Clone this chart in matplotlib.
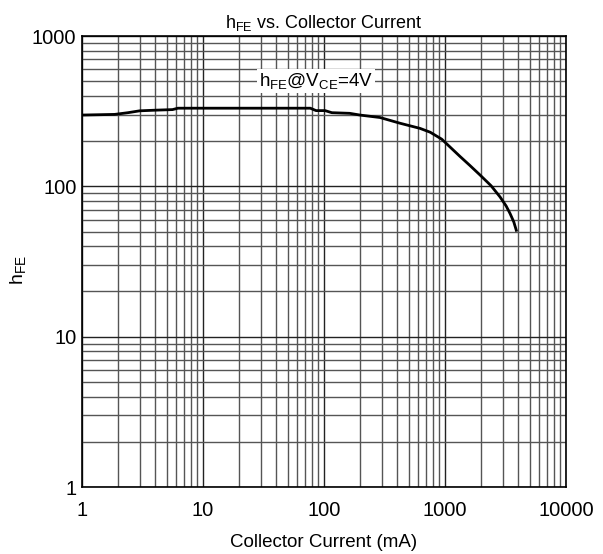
import matplotlib
matplotlib.use("Agg")
import matplotlib.pyplot as plt
from matplotlib.ticker import LogLocator, FixedLocator, NullFormatter

plt.rcParams['font.family'] = ['Liberation Sans', 'DejaVu Sans']
plt.rcParams['mathtext.fontset'] = 'custom'
plt.rcParams['mathtext.rm'] = 'Liberation Sans'
plt.rcParams['mathtext.it'] = 'Liberation Sans'
plt.rcParams['mathtext.default'] = 'regular'

# Data
ic_ma = [1, 1.86, 2.4, 3.0, 4.0, 5.6, 6.2, 28, 77, 86, 102, 116, 163, 198,
         290, 424, 621, 755, 939, 1331, 1600, 1946, 2400, 2850, 3200, 3445, 3700, 3911]
hfe = [298, 301, 309, 318, 321, 324, 331, 331, 331, 319, 319, 309, 306, 298,
       287, 263, 243, 229, 206, 158, 138, 119, 101, 85, 74, 66, 58, 50]

x_ticks = [1, 10, 100, 1000, 10000]
x_labels = ["1", "10", "100", "1000", "10000"]
y_ticks = [1, 10, 100, 1000]
y_labels = ["1", "10", "100", "1000"]

fig = plt.figure(figsize=(6.03, 5.54), dpi=100)
ax = fig.add_axes([0.136, 0.1209, 0.8027, 0.8141])
ax.set_xscale('log')
ax.set_yscale('log')
ax.set_xlim(1, 10000)
ax.set_ylim(1, 1000)

ax.plot(ic_ma, hfe, color='black', lw=2.0, solid_capstyle='butt', zorder=3)

ax.xaxis.set_major_locator(FixedLocator(x_ticks))
ax.set_xticklabels(x_labels)
ax.yaxis.set_major_locator(FixedLocator(y_ticks))
ax.set_yticklabels(y_labels)
ax.xaxis.set_minor_locator(LogLocator(base=10, subs=range(2, 10), numticks=20))
ax.yaxis.set_minor_locator(LogLocator(base=10, subs=range(2, 10), numticks=20))
ax.xaxis.set_minor_formatter(NullFormatter())
ax.yaxis.set_minor_formatter(NullFormatter())

ax.grid(True, which='major', color='#222222', lw=1.0)
ax.grid(True, which='minor', color='#555555', lw=1.0)
ax.tick_params(which='both', length=0, labelsize=14.5)
ax.tick_params(axis='x', pad=10)
ax.tick_params(axis='y', pad=4)
for s in ax.spines.values():
    s.set_linewidth(1.2)
    s.set_color('black')

ax.set_title(r"$\mathrm{h_{FE}}$ vs. Collector Current", fontsize=13, pad=6)
ax.set_xlabel("Collector Current (mA)", fontsize=13.5, labelpad=10)
ax.set_ylabel(r"$\mathrm{h_{FE}}$", fontsize=14)
ax.yaxis.set_label_coords(-0.112, 0.48)

ax.text(86, 500, r"$\mathrm{h_{FE}}$@$\mathrm{V_{CE}}$=4V", fontsize=13.5, ha='center', va='center',
        bbox=dict(facecolor='white', edgecolor='none', pad=1.5), zorder=4)

fig.savefig("out.png", dpi=100)
